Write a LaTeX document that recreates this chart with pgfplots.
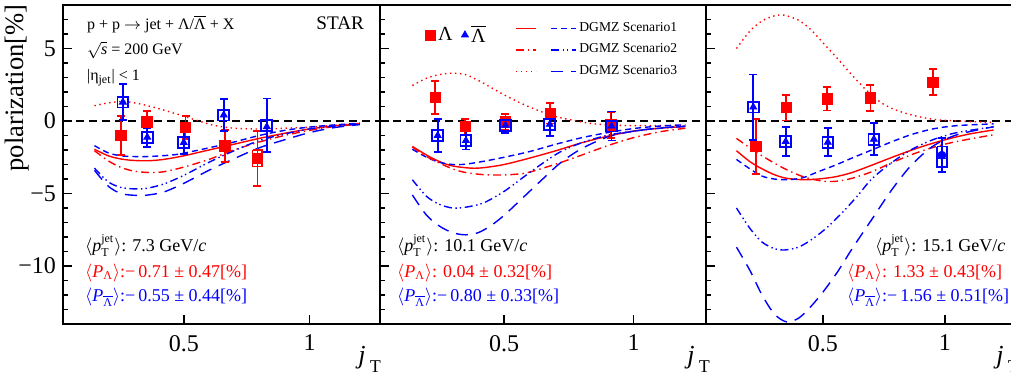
\documentclass[border=0pt]{standalone}
\usepackage{fontspec}
\setmainfont{Liberation Serif}
\usepackage{amsmath}
\usepackage{pgfplots}
\pgfplotsset{compat=1.18}
\newcommand{\Lbar}{$\overline{\text{Λ}}$}
\pgfplotsset{
  panel/.style={scale only axis, height=159.5pt, anchor=south west,
    xmin=0.02, xmax=1.28, ymin=-14, ymax=8,
    axis line style={line width=0.8pt},
    xtick={0.5,1}, xticklabels={0.5,1},
    ytick={-10,-5,0,5}, minor ytick={-14,...,8},
    tick pos=left, tick align=inside,
    major tick length=4.5pt, minor tick length=2.3pt,
    tick style={line width=0.8pt, black},
    tick label style={font=\fontsize{12}{14}\selectfont},
    xticklabel style={yshift=-2pt},
    clip=true},
  s1r/.style={red, line width=0.7pt, solid, smooth, forget plot},
  s1b/.style={blue, line width=0.7pt, dash pattern=on 3pt off 2pt, smooth, forget plot},
  s2r/.style={red, line width=0.7pt, dash pattern=on 4pt off 2pt on 0.7pt off 2pt, smooth, forget plot},
  s2b/.style={blue, line width=0.7pt, dash pattern=on 4pt off 1.8pt on 0.7pt off 1.5pt on 0.7pt off 1.8pt, smooth, forget plot},
  s3r/.style={red, line width=0.7pt, dash pattern=on 0.7pt off 1.8pt, smooth, forget plot},
  s3b/.style={blue, line width=0.7pt, dash pattern=on 6pt off 4pt, smooth, forget plot},
  zline/.style={black, line width=0.8pt, dash pattern=on 4pt off 2.5pt, forget plot},
  redpts/.style={only marks, mark=square*, mark size=2.6pt, color=red, forget plot,
    mark options={fill=red, draw=red, solid},
    error bars/.cd, y dir=both, y explicit, error mark=-,
    error bar style={line width=0.9pt, red, solid},
    error mark options={line width=0.9pt, red, mark size=2pt, solid, rotate=90}},
  bluebox/.style={only marks, mark=square, mark size=2.7pt, color=blue, forget plot,
    mark options={line width=0.9pt, solid},
    error bars/.cd, y dir=both, y explicit, error mark=-,
    error bar style={line width=0.9pt, blue, solid},
    error mark options={line width=0.9pt, blue, mark size=2pt, solid, rotate=90}},
  bluetri/.style={only marks, mark=triangle*, mark size=2pt, color=blue, forget plot,
    mark options={fill=blue, solid}},
  hidden/.style={scale only axis, anchor=south west, height=159.5pt, hide axis,
    xmin=0, xmax=1, ymin=0, ymax=1},
}
\begin{document}
\begin{tikzpicture}
% ---------------- panel 1 ----------------
\begin{axis}[panel, at={(31.5pt,27.5pt)}, width=158.5pt, yticklabels={−10,−5,0,5}]
\addplot[zline] coordinates {(0.02,0) (1.28,0)};
\addplot[s3r] coordinates {(0.145,1.05) (0.2,1.25) (0.26,1.35) (0.32,1.2) (0.38,0.95) (0.45,0.6) (0.5,0.33) (0.56,0.0) (0.62,-0.3) (0.7,-0.5) (0.8,-0.55) (0.9,-0.5) (1.0,-0.42) (1.1,-0.3) (1.2,-0.2)};
\addplot[s1r] coordinates {(0.145,-1.95) (0.2,-2.4) (0.25,-2.62) (0.3,-2.72) (0.36,-2.74) (0.42,-2.65) (0.5,-2.4) (0.6,-2.0) (0.7,-1.6) (0.8,-1.2) (0.9,-0.85) (1.0,-0.55) (1.1,-0.33) (1.2,-0.17)};
\addplot[s1b] coordinates {(0.145,-1.7) (0.2,-2.2) (0.25,-2.4) (0.3,-2.45) (0.36,-2.45) (0.45,-2.35) (0.5,-2.22) (0.6,-1.85) (0.7,-1.45) (0.8,-1.0) (0.9,-0.65) (1.0,-0.42) (1.1,-0.27) (1.2,-0.15)};
\addplot[s2r] coordinates {(0.145,-2.05) (0.2,-2.75) (0.25,-3.2) (0.3,-3.45) (0.36,-3.55) (0.42,-3.5) (0.5,-3.18) (0.6,-2.65) (0.7,-2.0) (0.8,-1.45) (0.9,-1.0) (1.0,-0.65) (1.1,-0.38) (1.2,-0.22)};
\addplot[s2b] coordinates {(0.145,-3.25) (0.2,-4.2) (0.25,-4.58) (0.3,-4.68) (0.35,-4.65) (0.42,-4.35) (0.5,-3.75) (0.6,-2.85) (0.7,-2.05) (0.8,-1.35) (0.9,-0.9) (1.0,-0.55) (1.1,-0.35) (1.2,-0.2)};
\addplot[s3b] coordinates {(0.145,-3.4) (0.2,-4.5) (0.25,-5.0) (0.3,-5.12) (0.35,-5.12) (0.42,-4.9) (0.5,-4.3) (0.6,-3.4) (0.7,-2.6) (0.8,-1.85) (0.9,-1.3) (1.0,-0.8) (1.1,-0.45) (1.2,-0.25)};
\addplot[red, line width=0.8pt, forget plot] coordinates {(0.774,-2.0) (0.812,-2.0) (0.812,-3.14) (0.774,-3.14) (0.774,-2.0)};
\addplot[redpts] coordinates {(0.25,-1.0) +- (0,1.35) (0.353,-0.05) +- (0,0.75) (0.507,-0.46) +- (0,0.8) (0.664,-1.71) +- (0,1.1) (0.793,-2.58) +- (0,1.9)};
\addplot[bluebox] coordinates {(0.258,1.3) +- (0,1.24) (0.355,-1.12) +- (0,0.65) (0.5,-1.49) +- (0,0.8) (0.659,0.41) +- (0,1.1) (0.83,-0.3) +- (0,1.85)};
\addplot[bluetri] coordinates {(0.258,1.3) (0.355,-1.12) (0.5,-1.49) (0.659,0.41) (0.83,-0.4)};
\end{axis}
% ---------------- panel 2 ----------------
\begin{axis}[panel, at={(190pt,27.5pt)}, width=163pt, yticklabels={}]
\addplot[zline] coordinates {(0.02,0) (1.28,0)};
\addplot[s3r] coordinates {(0.145,2.45) (0.2,2.95) (0.25,3.2) (0.3,3.3) (0.35,3.2) (0.4,2.8) (0.45,2.3) (0.5,1.8) (0.55,1.35) (0.6,0.95) (0.65,0.6) (0.7,0.3) (0.78,0.0) (0.85,-0.2) (0.95,-0.3) (1.05,-0.32) (1.2,-0.3)};
\addplot[s1r] coordinates {(0.145,-1.75) (0.2,-2.35) (0.25,-2.8) (0.3,-3.1) (0.37,-3.25) (0.42,-3.22) (0.5,-3.0) (0.6,-2.55) (0.7,-2.05) (0.8,-1.5) (0.9,-1.05) (1.0,-0.7) (1.1,-0.5) (1.2,-0.38)};
\addplot[s1b] coordinates {(0.145,-1.95) (0.2,-2.5) (0.25,-2.85) (0.3,-3.0) (0.35,-2.98) (0.42,-2.78) (0.5,-2.5) (0.6,-2.1) (0.7,-1.6) (0.8,-1.15) (0.9,-0.8) (1.0,-0.52) (1.1,-0.35) (1.2,-0.26)};
\addplot[s2r] coordinates {(0.145,-1.8) (0.2,-2.45) (0.25,-2.9) (0.3,-3.3) (0.35,-3.55) (0.42,-3.7) (0.5,-3.72) (0.58,-3.6) (0.65,-3.25) (0.72,-2.85) (0.8,-2.35) (0.9,-1.7) (1.0,-1.15) (1.1,-0.75) (1.2,-0.5)};
\addplot[s2b] coordinates {(0.145,-4.05) (0.2,-5.2) (0.25,-5.75) (0.3,-6.0) (0.35,-5.95) (0.42,-5.65) (0.5,-4.85) (0.58,-3.8) (0.65,-2.9) (0.72,-2.1) (0.8,-1.5) (0.9,-0.98) (1.0,-0.7) (1.1,-0.5) (1.2,-0.38)};
\addplot[s3b] coordinates {(0.145,-5.1) (0.2,-6.5) (0.25,-7.25) (0.3,-7.7) (0.35,-7.85) (0.4,-7.7) (0.45,-7.2) (0.5,-6.5) (0.56,-5.5) (0.64,-4.15) (0.72,-2.85) (0.8,-1.9) (0.9,-1.1) (1.0,-0.7) (1.1,-0.48) (1.2,-0.35)};
\addplot[redpts] coordinates {(0.234,1.63) +- (0,1.15) (0.35,-0.39) +- (0,0.55) (0.505,-0.07) +- (0,0.55) (0.678,0.53) +- (0,0.7) (0.913,-0.27) +- (0,0.9)};
\addplot[bluebox] coordinates {(0.243,-1.0) +- (0,1.15) (0.352,-1.35) +- (0,0.62) (0.505,-0.3) +- (0,0.55) (0.676,-0.23) +- (0,0.8) (0.915,-0.35) +- (0,1.0)};
\addplot[bluetri] coordinates {(0.243,-1.0) (0.352,-1.35) (0.505,-0.3) (0.676,-0.23) (0.915,-0.35)};
\end{axis}
% ---------------- panel 3 ----------------
\begin{axis}[panel, at={(353pt,27.5pt)}, width=153.5pt, yticklabels={}]
\addplot[zline] coordinates {(0.02,0) (1.28,0)};
\addplot[s3r] coordinates {(0.145,5.0) (0.2,6.2) (0.25,6.9) (0.3,7.25) (0.34,7.3) (0.4,6.95) (0.45,6.3) (0.5,5.4) (0.56,4.3) (0.62,3.15) (0.68,2.1) (0.74,1.25) (0.8,0.75) (0.88,0.35) (0.96,0.1) (1.05,0.0) (1.2,-0.1)};
\addplot[s1r] coordinates {(0.145,-2.05) (0.2,-2.8) (0.25,-3.3) (0.3,-3.7) (0.35,-3.95) (0.42,-4.05) (0.48,-4.0) (0.55,-3.85) (0.62,-3.55) (0.7,-3.05) (0.8,-2.4) (0.9,-1.8) (1.0,-1.3) (1.1,-0.9) (1.2,-0.62)};
\addplot[s1b] coordinates {(0.145,-2.65) (0.2,-3.3) (0.25,-3.8) (0.3,-4.0) (0.36,-4.05) (0.42,-3.9) (0.48,-3.5) (0.55,-3.05) (0.62,-2.55) (0.7,-2.0) (0.78,-1.45) (0.86,-0.95) (0.95,-0.55) (1.05,-0.32) (1.2,-0.2)};
\addplot[s2r] coordinates {(0.145,-1.2) (0.2,-1.85) (0.25,-2.4) (0.3,-2.9) (0.35,-3.35) (0.42,-3.85) (0.5,-4.15) (0.56,-4.15) (0.62,-3.95) (0.7,-3.5) (0.8,-2.75) (0.9,-2.1) (1.0,-1.6) (1.1,-1.25) (1.2,-0.95)};
\addplot[s2b] coordinates {(0.145,-6.0) (0.2,-7.4) (0.25,-8.35) (0.3,-8.8) (0.34,-8.9) (0.4,-8.7) (0.46,-8.1) (0.52,-7.3) (0.58,-6.3) (0.64,-5.2) (0.7,-4.0) (0.78,-2.9) (0.86,-2.0) (0.95,-1.3) (1.05,-0.8) (1.2,-0.4)};
\addplot[s3b] coordinates {(0.145,-8.7) (0.2,-10.3) (0.25,-12.0) (0.3,-13.3) (0.35,-13.85) (0.4,-13.6) (0.45,-12.8) (0.5,-11.8) (0.56,-10.4) (0.62,-8.8) (0.7,-6.8) (0.78,-4.8) (0.86,-3.1) (0.95,-1.75) (1.05,-0.95) (1.2,-0.4)};
\addplot[redpts] coordinates {(0.224,-1.76) +- (0,1.9) (0.349,0.92) +- (0,0.88) (0.517,1.53) +- (0,0.8) (0.695,1.58) +- (0,0.9) (0.952,2.68) +- (0,0.88)};
\addplot[bluebox] coordinates {(0.214,0.96) +- (0,2.25) (0.347,-1.42) +- (0,1.0) (0.52,-1.47) +- (0,0.96) (0.709,-1.26) +- (0,1.1)};
\addplot[blue, line width=0.9pt, forget plot] coordinates {(0.967,-1.76) (1.009,-1.76) (1.009,-3.2) (0.967,-3.2) (0.967,-1.76)};
\addplot[blue, forget plot, only marks, mark=none, error bars/.cd, y dir=both, y explicit, error mark=-, error bar style={line width=0.9pt, blue}, error mark options={line width=0.9pt, blue, mark size=2pt, rotate=90}] coordinates {(0.988,-2.36) +- (0,1.17)};
\addplot[bluetri] coordinates {(0.214,0.96) (0.347,-1.42) (0.52,-1.47) (0.709,-1.26) (0.988,-2.45)};
\end{axis}
% ---------------- legends (panel 2) ----------------
\begin{axis}[hidden, at={(190pt,27.5pt)}, width=163pt,
  legend columns=2,
  legend style={draw=none, fill=none, at={(0.138,0.906)}, anchor=west, inner sep=0pt,
    font=\fontsize{10}{12}\selectfont, nodes={inner sep=1.4pt},
    /tikz/every even column/.append style={column sep=3pt}}]
\addlegendimage{legend image code/.code={\draw[red, only marks, mark=square*, mark size=2.5pt] plot coordinates {(0pt,0pt)};}}
\addlegendentry{Λ}
\addlegendimage{legend image code/.code={\draw[blue, only marks, mark=triangle*, mark size=2pt] plot coordinates {(0pt,0pt)};}}
\addlegendentry{\Lbar}
\end{axis}
\begin{axis}[hidden, at={(190pt,27.5pt)}, width=163pt,
  legend style={draw=none, fill=none, at={(0.414,0.859)}, anchor=west, inner sep=0pt,
    font=\fontsize{6.8}{8}\selectfont, nodes={inner sep=1.3pt}, row sep=2.2pt, legend cell align=left}]
\addlegendimage{legend image code/.code={\draw[red, line width=0.7pt] (0pt,0pt)--(10pt,0pt); \draw[blue, line width=0.7pt, dash pattern=on 3pt off 2pt] (17.5pt,0pt)--(30pt,0pt);}}
\addlegendentry{DGMZ Scenario1}
\addlegendimage{legend image code/.code={\draw[red, line width=0.7pt, dash pattern=on 4pt off 2pt on 0.7pt off 2pt] (0pt,0pt)--(10pt,0pt); \draw[blue, line width=0.7pt, dash pattern=on 4pt off 1.8pt on 0.7pt off 1.5pt on 0.7pt off 1.8pt] (17.5pt,0pt)--(30pt,0pt);}}
\addlegendentry{DGMZ Scenario2}
\addlegendimage{legend image code/.code={\draw[red, line width=0.7pt, dash pattern=on 0.7pt off 1.8pt] (0pt,0pt)--(10pt,0pt); \draw[blue, line width=0.7pt, dash pattern=on 6pt off 4pt] (17.5pt,0pt)--(30pt,0pt);}}
\addlegendentry{DGMZ Scenario3}
\end{axis}
% ---------------- texts ----------------
\begin{scope}[x=0.5pt, y=-0.5pt, shift={(0pt,189.5pt)}]
\node[rotate=90, anchor=center, font=\fontsize{13.3}{15}\selectfont] at (17,88) {polarization[\%]};
\node[anchor=base west, font=\fontsize{8}{9}\selectfont] at (80,29.5) {p + p $\rightarrow$ jet + Λ/\Lbar{} + X};
\node[anchor=base west, font=\fontsize{8}{9}\selectfont] at (80,55) {$\sqrt{\textit{s}}$ = 200 GeV};
\node[anchor=base west, font=\fontsize{8}{9}\selectfont] at (80,81) {|η$_{\text{jet}}$| < 1};
\node[anchor=base east, font=\fontsize{9.6}{11}\selectfont] at (371,29.5) {STAR};
% panel 1 bottom
\node[anchor=base west, font=\fontsize{9}{10}\selectfont] at (78,251.5) {$\langle$\textit{p}$^{\text{jet}}_{\text{T}}\rangle$: 7.3 GeV/\textit{c}};
\node[anchor=base west, font=\fontsize{9}{10}\selectfont, text=red] at (78,277.5) {$\langle$\textit{P}$_{\text{Λ}}\rangle$:−\,0.71 ± 0.47[\%]};
\node[anchor=base west, font=\fontsize{9}{10}\selectfont, text=blue] at (78,301.5) {$\langle$\textit{P}$_{\overline{\text{Λ}}}\rangle$:−\,0.55 ± 0.44[\%]};
% panel 2 bottom
\node[anchor=base west, font=\fontsize{9}{10}\selectfont] at (390,251.5) {$\langle$\textit{p}$^{\text{jet}}_{\text{T}}\rangle$: 10.1 GeV/\textit{c}};
\node[anchor=base west, font=\fontsize{9}{10}\selectfont, text=red] at (390,277.5) {$\langle$\textit{P}$_{\text{Λ}}\rangle$: 0.04 ± 0.32[\%]};
\node[anchor=base west, font=\fontsize{9}{10}\selectfont, text=blue] at (390,301.5) {$\langle$\textit{P}$_{\overline{\text{Λ}}}\rangle$:−\,0.80 ± 0.33[\%]};
% panel 3 bottom
\node[anchor=base west, font=\fontsize{9}{10}\selectfont] at (868,251.5) {$\langle$\textit{p}$^{\text{jet}}_{\text{T}}\rangle$: 15.1 GeV/\textit{c}};
\node[anchor=base west, font=\fontsize{9}{10}\selectfont, text=red] at (840,277.5) {$\langle$\textit{P}$_{\text{Λ}}\rangle$: 1.33 ± 0.43[\%]};
\node[anchor=base west, font=\fontsize{9}{10}\selectfont, text=blue] at (840,301.5) {$\langle$\textit{P}$_{\overline{\text{Λ}}}\rangle$:−\,1.56 ± 0.51[\%]};
% j_T labels
\foreach \xx in {358,687,996}{
  \node[anchor=base west, inner sep=0pt, font=\fontsize{13}{15}\selectfont] at (\xx,364) {\textit{j}\,\raisebox{-4.3pt}{\fontsize{9}{10}\selectfont T}};
}
\end{scope}
\pgfresetboundingbox
\path[use as bounding box] (0pt,0pt) rectangle (505.5pt,189.5pt);
\end{tikzpicture}
\end{document}
